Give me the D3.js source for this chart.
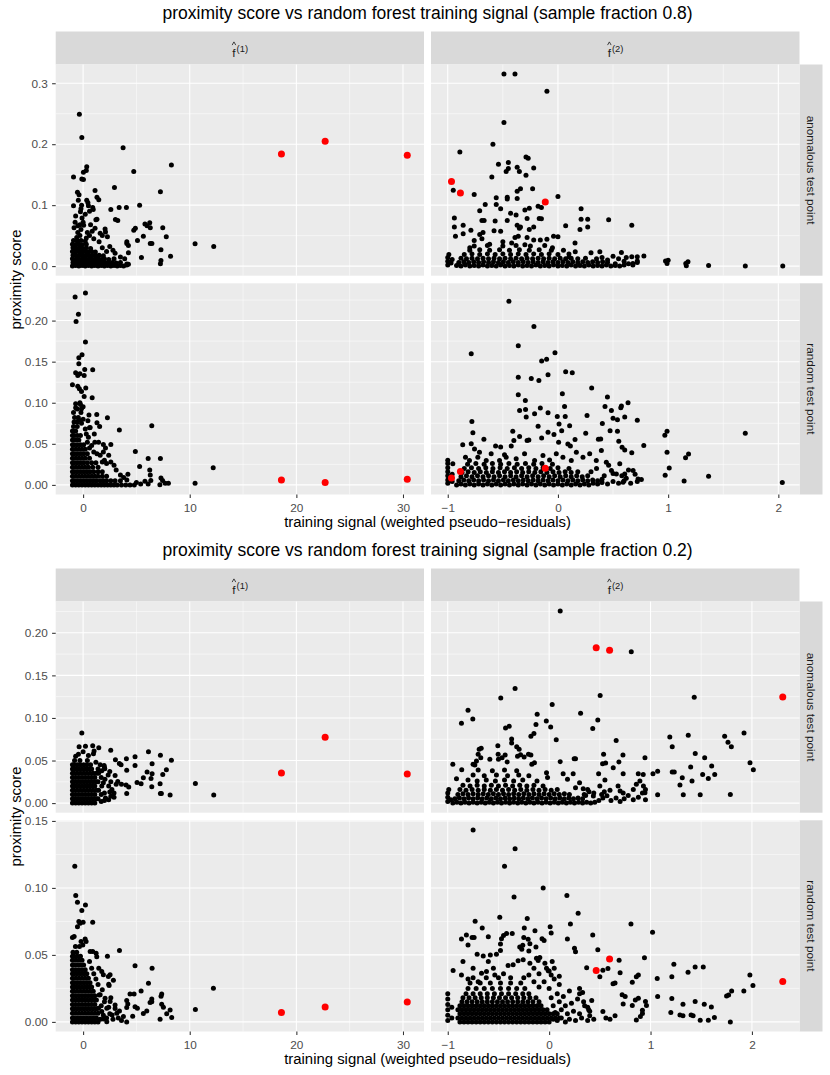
<!DOCTYPE html>
<html>
<head>
<meta charset="utf-8">
<script src="https://cdn.jsdelivr.net/npm/d3@7"></script>
<style>
  body { margin: 0; background: #fff; }
  text { font-family: "Liberation Sans", Arial, Helvetica, sans-serif; }
</style>
</head>
<body>
<svg id="chart" width="830" height="1075"></svg>
<script>
// ---- labels and ticks ----
const titles = [
  "proximity score vs random forest training signal (sample fraction 0.8)",
  "proximity score vs random forest training signal (sample fraction 0.2)",
];
const colLabels = ["1", "2"];
const rowLabels = ["anomalous test point", "random test point"];
const xLabel = "training signal (weighted pseudo\u2212residuals)";
const yLabel = "proximity score";

const xTicksF1 = [0, 10, 20, 30];
const xTicksF2 = [-1, 0, 1, 2];
const yTicks08Anom = [0, 0.1, 0.2, 0.3];
const yTicks08Rand = [0, 0.05, 0.1, 0.15, 0.2];
const yTicks02Anom = [0, 0.05, 0.1, 0.15, 0.2];
const yTicks02Rand = [0, 0.05, 0.1, 0.15];

// ---- highlighted (red) points ----
const red08F1Anom = [[18.6, 0.184], [22.7, 0.205], [30.4, 0.182]];
const red08F1Rand = [[18.6, 0.006], [22.7, 0.0028], [30.4, 0.0069]];
const red08F2Anom = [[-0.966, 0.139], [-0.885, 0.120], [-0.115, 0.105]];
const red08F2Rand = [[-0.966, 0.0085], [-0.885, 0.0162], [-0.115, 0.0203]];
const red02F1Anom = [[18.6, 0.0353], [22.7, 0.0773], [30.4, 0.0341]];
const red02F1Rand = [[18.6, 0.0070], [22.7, 0.0112], [30.4, 0.0149]];
const red02F2Anom = [[0.464, 0.1824], [0.596, 0.1796], [2.304, 0.1247]];
const red02F2Rand = [[0.464, 0.0383], [0.596, 0.047], [2.304, 0.0301]];

// ---- sample fraction 0.8, f1, anomalous ----
const pts08F1Anom = [
  [-1.0,0],[-0.7,0.001],[-0.4,0],[-0.1,0.001],[0.2,0],[0.5,0.001],[0.8,0],[1.1,0.001],[1.4,0],[1.7,0.001],[2.0,0],[2.3,0.001],[2.6,0],[2.9,0.001],[3.2,0],[3.5,0.001],[3.8,0],[4.1,0.002],
  [-0.95,0.006],[-0.65,0.005],[-0.35,0.006],[-0.05,0.005],[0.25,0.006],[0.55,0.005],[0.85,0.006],[1.15,0.005],[1.45,0.006],[1.75,0.005],[2.05,0.006],[2.4,0.005],[2.75,0.006],[3.1,0.005],[3.5,0.006],
  [-1.0,0.012],[-0.7,0.011],[-0.4,0.012],[-0.1,0.011],[0.2,0.012],[0.5,0.011],[0.8,0.012],[1.1,0.011],[1.4,0.012],[1.7,0.011],[2.0,0.012],[2.4,0.011],[2.9,0.012],
  [-0.95,0.018],[-0.65,0.017],[-0.35,0.018],[-0.05,0.017],[0.25,0.018],[0.55,0.017],[0.85,0.018],[1.15,0.017],[1.5,0.018],[1.9,0.017],
  [-1.0,0.024],[-0.7,0.023],[-0.4,0.024],[-0.1,0.023],[0.2,0.024],[0.5,0.023],[0.8,0.024],[1.15,0.023],
  [-0.95,0.030],[-0.65,0.029],[-0.35,0.030],[-0.05,0.029],[0.3,0.030],[0.7,0.029],
  [-1.0,0.036],[-0.7,0.035],[-0.4,0.036],[-0.1,0.035],[0.3,0.036],
  [-0.9,0.042],[-0.55,0.041],[-0.2,0.042],[0.2,0.041],
  [-0.35,0.249],[-0.12,0.211],[3.75,0.194],[8.28,0.166],[4.75,0.155],[0.34,0.163],[0.3,0.157],[0.03,0.154],[-0.9,0.146],[-0.12,0.143],[0.03,0.142],
  [2.94,0.129],[1.12,0.124],[-0.53,0.121],[-0.38,0.117],[7.25,0.122],[0.34,0.108],[1.47,0.109],[1.3,0.113],[-0.14,0.100],[-0.2,0.094],
  [-0.9,0.099],[0.45,0.104],[0.5,0.099],[0.9,0.096],[0.95,0.093],[-0.25,0.089],[2.6,0.093],[3.38,0.096],[4.06,0.096],[5.3,0.1],[3.03,0.0765],
  [-0.75,0.072],[-0.1,0.079],[0.0,0.072],[0.05,0.067],[-0.3,0.068],[1.2,0.076],[1.3,0.077],[3.25,0.075],[4.9,0.062],[4.75,0.059],
  [5.8,0.069],[6.0,0.066],[6.25,0.071],[6.3,0.063],[7.47,0.063],[7.8,0.048],[5.65,0.049],[5.1,0.042],[4.1,0.04],[4.1,0.037],[4.25,0.034],
  [6.3,0.037],[6.45,0.037],[7.3,0.027],[8.2,0.016],[5.47,0.014],[7.3,0.009],[7.25,0.004],[4.1,0.0035],[4.25,0.003],[10.5,0.0366],[12.25,0.032],
  [4.25,0.022],[1.12,0.062],[1.6,0.054],[1.8,0.05],[2.06,0.061],[2.1,0.056],[2.28,0.048],[0.85,0.057],[1.0,0.045],[0.6,0.05],[-0.5,0.055],
  [-0.3,0.05],[-0.6,0.047],[0.3,0.046],[1.5,0.04],[2.5,0.032],[3.0,0.021],[3.5,0.015],[2.8,0.026],[3.9,0.012],[1.8,0.03],[2.2,0.024],
  [-0.85,0.063],[-0.5,0.066],[-0.2,0.06],[0.4,0.055],[0.7,0.068],[-0.7,0.082],[0.2,0.085],[-0.45,0.108],[0.6,0.09]
];

// ---- sample fraction 0.8, f1, random ----
const pts08F1Rand = [
  [-1.0,0],[-0.7,0],[-0.4,0],[-0.1,0],[0.2,0],[0.5,0],[0.8,0],[1.1,0],[1.4,0],[1.7,0],[2.0,0],[2.3,0],[2.6,0],[2.9,0],[3.2,0],[3.6,0],[4.0,0],[4.4,0],[4.8,0],
  [-1.0,0.005],[-0.85,0.005],[-0.55,0.005],[-0.25,0.005],[0.05,0.005],[0.35,0.005],[0.65,0.005],[0.95,0.005],[1.25,0.005],[1.6,0.005],[1.9,0.005],[2.2,0.005],[2.6,0.005],[3.0,0.005],[3.5,0.005],
  [-1.0,0.0105],[-0.7,0.0105],[-0.4,0.0105],[-0.1,0.0105],[0.2,0.0105],[0.5,0.0105],[0.8,0.0105],[1.1,0.0105],[1.4,0.0105],[1.8,0.0105],[2.2,0.0105],
  [-1.0,0.016],[-0.85,0.016],[-0.55,0.016],[-0.25,0.016],[0.05,0.016],[0.35,0.016],[0.65,0.016],[1.0,0.016],[1.4,0.016],[1.8,0.016],
  [-1.0,0.0215],[-0.7,0.0215],[-0.4,0.0215],[-0.1,0.0215],[0.2,0.0215],[0.5,0.0215],[0.9,0.0215],[1.4,0.0215],
  [-1.0,0.027],[-0.85,0.027],[-0.55,0.027],[-0.25,0.027],[0.05,0.027],[0.4,0.027],[0.8,0.027],[1.2,0.027],
  [-1.0,0.0325],[-0.7,0.0325],[-0.4,0.0325],[-0.1,0.0325],[0.2,0.0325],[0.6,0.0325],
  [-1.0,0.038],[-0.85,0.038],[-0.55,0.038],[-0.25,0.038],[0.05,0.038],[0.4,0.038],
  [-1.0,0.0435],[-0.7,0.0435],[-0.4,0.0435],[-0.1,0.0435],[0.2,0.0435],
  [-1.0,0.049],[-0.85,0.049],[-0.55,0.049],[-0.25,0.049],[0.05,0.049],
  [-1.0,0.0545],[-0.7,0.0545],[-0.4,0.0545],
  [-1.0,0.06],[-0.85,0.06],[-0.55,0.06],[-0.25,0.06],
  [-1.0,0.0655],[-0.7,0.0655],[-0.9,0.071],[-0.55,0.071],[-0.85,0.0765],[-0.55,0.0765],[-0.8,0.082],[-0.45,0.082],[-0.9,0.088],[-0.7,0.094],
  [-0.75,0.2288],[0.22,0.2337],[-0.44,0.2077],[-0.66,0.1988],[0.22,0.1739],[-0.1,0.1585],[-0.4,0.1548],[-0.4,0.1475],[-0.7,0.1365],[-0.5,0.1333],
  [-0.3,0.1353],[0.15,0.1406],[0.1,0.1333],[0.9,0.1402],[-1.0,0.1219],[-0.5,0.12],[-0.35,0.1171],[-0.15,0.1138],[0.25,0.1179],[0.1,0.1077],
  [0.85,0.1061],[-0.7,0.0988],[-0.25,0.098],[-0.15,0.0926],[1.28,0.0857],[2.28,0.0817],[1.3,0.0756],[1.55,0.0711],[0.6,0.0695],[6.44,0.072],
  [3.4,0.0667],[1.1,0.052],[1.45,0.052],[1.9,0.0492],[2.6,0.0492],[4.9,0.0406],[6.1,0.0321],[7.25,0.0321],[5.3,0.0224],[6.25,0.0182],
  [6.3,0.0121],[6.35,0.0053],[4.2,0.013],[12.2,0.0208],[10.5,0.0019],[7.7,0.0019],[8.0,0.0019],[7.2,0.0003],[7.3,0.0085],[7.45,0.0053],
  [5.8,0.0045],[6.1,0.0012],[0.66,0.070],[-0.2,0.088],[-0.4,0.079],[0.0,0.08],[-0.3,0.1],[-0.55,0.0925],[0.3,0.062],[0.5,0.058],
  [0.8,0.048],[1.0,0.040],[1.3,0.038],[1.6,0.036],[1.9,0.04],[2.1,0.045],[2.4,0.036],[2.6,0.028],[2.9,0.024],[3.1,0.018],
  [3.5,0.012],[3.8,0.009],[4.1,0.006],[5.0,0.003],[5.4,0.001],[2.2,0.026],[1.8,0.028],[0.6,0.045],[0.4,0.052],[0.2,0.068],
  [0.0,0.095],[-0.15,0.075],[0.45,0.078],[0.55,0.085],[1.05,0.062],[2.0,0.03]
];

// ---- sample fraction 0.8, f2, anomalous ----
const pts08F2Anom = [
  [-0.92,0.001],[-0.88,0],[-0.84,0.002],[-0.8,0],[-0.76,0.001],[-0.72,0],[-0.68,0.002],[-0.64,0],[-0.6,0.001],[-0.56,0],[-0.52,0.002],[-0.48,0],[-0.44,0.001],
  [-0.4,0],[-0.36,0.002],[-0.32,0],[-0.28,0.001],[-0.24,0],[-0.2,0.002],[-0.16,0],[-0.12,0.001],[-0.08,0],[-0.04,0.002],[0,0],[0.04,0.001],[0.08,0],
  [0.12,0.002],[0.16,0],[0.2,0.001],[0.24,0],[0.28,0.002],[0.32,0],[0.36,0.001],[0.4,0],[0.44,0.002],[0.48,0],[0.52,0.001],[0.56,0],
  [-0.9,0.006],[-0.855,0.007],[-0.81,0.006],[-0.765,0.007],[-0.72,0.006],[-0.675,0.007],[-0.63,0.006],[-0.585,0.007],[-0.54,0.006],[-0.495,0.007],
  [-0.45,0.006],[-0.405,0.007],[-0.36,0.006],[-0.315,0.007],[-0.27,0.006],[-0.225,0.007],[-0.18,0.006],[-0.135,0.007],[-0.09,0.006],[-0.045,0.007],
  [0,0.006],[0.045,0.007],[0.09,0.006],[0.135,0.007],[0.18,0.006],[0.225,0.007],[0.27,0.006],[0.315,0.007],[0.36,0.006],[0.405,0.007],[0.45,0.006],
  [-0.88,0.013],[-0.83,0.012],[-0.78,0.013],[-0.73,0.012],[-0.68,0.013],[-0.63,0.012],[-0.58,0.013],[-0.53,0.012],[-0.48,0.013],[-0.43,0.012],
  [-0.38,0.013],[-0.33,0.012],[-0.28,0.013],[-0.23,0.012],[-0.18,0.013],[-0.13,0.012],[-0.08,0.013],[-0.03,0.012],[0.02,0.013],[0.07,0.012],[0.12,0.013],[0.18,0.012],[0.25,0.013],
  [-0.85,0.019],[-0.78,0.02],[-0.71,0.019],[-0.64,0.02],[-0.57,0.019],[-0.5,0.02],[-0.43,0.019],[-0.36,0.02],[-0.29,0.019],[-0.22,0.02],[-0.15,0.019],[-0.08,0.02],[0,0.019],[0.1,0.02],
  [-0.8,0.026],[-0.71,0.027],[-0.62,0.026],[-0.53,0.027],[-0.44,0.026],[-0.35,0.027],[-0.26,0.026],[-0.17,0.027],[-0.06,0.026],
  [-0.76,0.033],[-0.64,0.034],[-0.5,0.033],[-0.38,0.034],[-0.25,0.033],[-0.12,0.034],
  [-1.0,0.002],[-1.0,0.008],[-1.0,0.014],[-0.99,0.019],[-0.97,0.005],[-0.96,0.011],
  [0.6,0.002],[0.64,0.004],[0.68,0.002],[0.72,0.006],[0.6,0.008],[0.55,0.012],[0.5,0.016],[0.4,0.014],[0.62,0.014],[0.45,0.01],[0.52,0.004],
  [-0.49,0.315],[-0.39,0.315],[-0.10,0.287],[-0.49,0.2355],[-0.59,0.2],[-0.89,0.187],[-0.54,0.167],[-0.29,0.179],[-0.27,0.177],[-0.45,0.170],
  [-0.37,0.162],[-0.45,0.160],[-0.22,0.161],[-0.47,0.155],[-0.35,0.155],[-0.29,0.149],[-0.6,0.146],[-0.95,0.1245],[-0.76,0.1175],[-0.46,0.113],
  [-0.46,0.110],[-0.37,0.111],[-0.37,0.123],[-0.34,0.127],[-0.23,0.127],[0.0,0.114],[-0.56,0.112],[-0.66,0.101],[-0.71,0.091],[-0.56,0.101],
  [-0.52,0.094],[-0.43,0.0866],[-0.38,0.084],[-0.3,0.092],[-0.26,0.095],[-0.18,0.098],[-0.15,0.096],[0.21,0.094],[0.21,0.077],[0.27,0.077],
  [0.46,0.0759],[0.67,0.067],[0.07,0.066],[0.20,0.060],[0.27,0.064],[-0.94,0.079],[-0.94,0.064],[-0.93,0.049],[-0.86,0.067],[-0.86,0.053],
  [-0.79,0.059],[-0.69,0.075],[-0.67,0.075],[-0.57,0.074],[-0.46,0.075],[-0.37,0.067],[-0.35,0.062],[-0.34,0.064],[-0.28,0.078],[-0.17,0.078],
  [-0.15,0.0775],[-0.26,0.06],[-0.22,0.064],[-0.04,0.049],[0.0,0.048],[0.155,0.038],[-0.76,0.042],[-0.69,0.045],[-0.71,0.052],[-0.68,0.055],
  [-0.58,0.058],[-0.52,0.057],[-0.36,0.049],[-0.39,0.047],[-0.28,0.047],[-0.22,0.043],[-0.16,0.043],[-0.1,0.044],[0.38,0.0235],[0.576,0.0224],
  [0.30,0.022],[0.157,0.0235],[0.67,0.0153],[0.72,0.0153],[0.78,0.0164],[0.72,0.0082],[0.68,0.0044],[0.976,0.0082],[0.99,0.0044],[1.0,0.0098],
  [1.16,0.0044],[1.18,0.0071],[1.165,0.0005],[1.367,0.001],[1.70,0.0],[2.04,0.0],[-0.62,0.036],[-0.5,0.04],[-0.42,0.038],[-0.3,0.035],
  [-0.05,0.03],[0.05,0.026],[-0.8,0.03],[0.1,0.015],[0.35,0.012]
];

// ---- sample fraction 0.8, f2, random ----
const pts08F2Rand = [
  [-0.92,0],[-0.88,0.001],[-0.84,0],[-0.8,0.001],[-0.76,0],[-0.72,0.001],[-0.68,0],[-0.64,0.001],[-0.6,0],[-0.56,0.001],[-0.52,0],[-0.48,0.001],
  [-0.44,0],[-0.4,0.001],[-0.36,0],[-0.32,0.001],[-0.28,0],[-0.24,0.001],[-0.2,0],[-0.16,0.001],[-0.12,0],[-0.08,0.001],[-0.04,0],[0,0.001],
  [0.04,0],[0.08,0.001],[0.12,0],[0.16,0.001],[0.2,0],[0.24,0.001],[0.28,0],
  [-0.9,0.005],[-0.855,0.006],[-0.81,0.005],[-0.765,0.006],[-0.72,0.005],[-0.675,0.006],[-0.63,0.005],[-0.585,0.006],[-0.54,0.005],[-0.495,0.006],
  [-0.45,0.005],[-0.405,0.006],[-0.36,0.005],[-0.315,0.006],[-0.27,0.005],[-0.225,0.006],[-0.18,0.005],[-0.135,0.006],[-0.09,0.005],[-0.045,0.006],
  [0,0.005],[0.045,0.006],[0.09,0.005],[0.135,0.006],[0.18,0.005],[0.225,0.006],[0.27,0.005],[0.315,0.006],[0.36,0.005],
  [-0.88,0.01],[-0.83,0.011],[-0.78,0.01],[-0.73,0.011],[-0.68,0.01],[-0.63,0.011],[-0.58,0.01],[-0.53,0.011],[-0.48,0.01],[-0.43,0.011],[-0.38,0.01],[-0.33,0.011],
  [-0.28,0.01],[-0.23,0.011],[-0.18,0.01],[-0.13,0.011],[-0.08,0.01],[-0.03,0.011],[0.02,0.01],[0.07,0.011],[0.12,0.01],[0.17,0.011],[0.22,0.01],[0.27,0.011],
  [-0.87,0.015],[-0.815,0.016],[-0.76,0.015],[-0.705,0.016],[-0.65,0.015],[-0.595,0.016],[-0.54,0.015],[-0.485,0.016],[-0.43,0.015],[-0.375,0.016],
  [-0.32,0.015],[-0.265,0.016],[-0.21,0.015],[-0.155,0.016],[-0.1,0.015],[-0.045,0.016],[0.01,0.015],[0.065,0.016],[0.12,0.015],[0.18,0.016],
  [-0.85,0.02],[-0.785,0.021],[-0.72,0.02],[-0.655,0.021],[-0.59,0.02],[-0.525,0.021],[-0.46,0.02],[-0.395,0.021],[-0.33,0.02],[-0.265,0.021],
  [-0.2,0.02],[-0.135,0.021],[-0.07,0.02],[0.0,0.021],[0.1,0.02],
  [-0.82,0.025],[-0.745,0.026],[-0.67,0.025],[-0.595,0.026],[-0.52,0.025],[-0.445,0.026],[-0.37,0.025],[-0.295,0.026],[-0.22,0.025],[-0.145,0.026],[-0.05,0.025],
  [-1.0,0.002],[-1.0,0.006],[-1.0,0.011],[-1.0,0.016],[-1.0,0.021],[-1.0,0.026],[-1.0,0.03],[-0.96,0.004],[-0.96,0.013],
  [0.32,0.002],[0.36,0.001],[0.4,0.003],[0.45,0.001],[0.5,0.004],[0.55,0.002],[0.6,0.005],[0.66,0.002],[0.72,0.004],[0.42,0.011],
  [0.5,0.014],[0.58,0.011],[0.64,0.018],[0.7,0.013],[0.35,0.02],[0.46,0.024],[0.3,0.016],[0.4,0.007],[0.62,0.008],
  [-0.864,0.0488],[-0.787,0.05],[-0.757,0.0438],[-0.712,0.0398],[-0.672,0.0556],[-0.566,0.0472],[-0.52,0.046],[-0.485,0.0367],[-0.424,0.0472],
  [-0.4,0.054],[-0.348,0.0589],[-0.954,0.0256],
  [-0.839,0.0337],[-0.803,0.0296],[-0.727,0.0337],[-0.651,0.0296],[-0.606,0.0378],[-0.53,0.0296],[-0.47,0.0337],[-0.379,0.0317],[-0.303,0.0378],
  [-0.212,0.0296],[-0.136,0.0358],[-0.076,0.0304],[-0.015,0.0378],[0.045,0.0337],[0.121,0.0296],[0.167,0.0398],[0.227,0.0337],[0.288,0.0378],
  [0.348,0.0296],[0.394,0.0419],[0.439,0.0276],[0.485,0.0174],[0.53,0.0134],[0.561,0.0256],[0.606,0.0134],[0.682,0.0174],[0.727,0.0073],
  [0.757,0.0065],[0.591,0.0033],
  [-0.445,0.2235],[-0.218,0.1927],[-0.36,0.1695],[-0.787,0.1597],[-0.027,0.161],[-0.148,0.1507],[-0.103,0.1528],[-0.36,0.1309],[-0.242,0.1296],
  [-0.173,0.1272],[-0.09,0.134],[0.07,0.1378],[0.13,0.1366],[0.306,0.1178],[-0.36,0.1097],[-0.296,0.1028],[0.04,0.111],[0.449,0.107],[0.636,0.1],
  [-0.348,0.0906],[-0.294,0.0918],[-0.288,0.0825],[-0.212,0.0865],[-0.16,0.0935],[-0.09,0.0877],[0.06,0.0955],[-0.006,0.0833],[0.066,0.0833],
  [0.427,0.0955],[0.485,0.0906],[0.57,0.0939],[0.576,0.096],[0.264,0.0845],[0.5,0.0812],[0.54,0.0792],[0.606,0.0825],[0.72,0.0788],
  [-0.781,0.0772],[-0.772,0.0634],[0.403,0.0748],[-0.18,0.0715],[0.01,0.074],[0.106,0.072],[0.034,0.0658],[0.252,0.063],[-0.09,0.0642],
  [-0.036,0.0614],[0.473,0.0658],[0.54,0.0654],[-0.41,0.0654],[-0.28,0.054],[-0.264,0.0548],[-0.148,0.0572],[0.006,0.052],[0.09,0.0499],
  [0.113,0.0475],[0.155,0.0552],[0.367,0.0556],[0.388,0.056],[0.552,0.0532],[0.582,0.0459],[0.606,0.0426],[0.67,0.039],[0.779,0.048],
  [0.97,0.0605],[0.99,0.0654],[0.99,0.0398],[1.158,0.0329],[1.185,0.0377],[1.70,0.063],[1.01,0.0207],[0.973,0.0118],[1.145,0.0048],
  [1.367,0.0105],[2.036,0.0028]
];

// ---- sample fraction 0.2, f1, anomalous ----
const pts02F1Anom = [
  [-1.0,0],[-0.7,0],[-0.4,0],[-0.1,0],[0.2,0],[0.5,0],[0.8,0],[1.1,0],
  [-1.0,0.005],[-0.85,0.005],[-0.55,0.005],[-0.25,0.005],[0.05,0.005],[0.35,0.005],[0.65,0.005],[0.95,0.005],[1.25,0.005],
  [-1.0,0.01],[-0.7,0.01],[-0.4,0.01],[-0.1,0.01],[0.2,0.01],[0.5,0.01],[0.8,0.01],[1.1,0.01],
  [-1.0,0.015],[-0.85,0.015],[-0.55,0.015],[-0.25,0.015],[0.05,0.015],[0.35,0.015],[0.65,0.015],[0.95,0.015],[1.25,0.015],
  [-1.0,0.02],[-0.7,0.02],[-0.4,0.02],[-0.1,0.02],[0.2,0.02],[0.5,0.02],[0.8,0.02],[1.1,0.02],
  [-1.0,0.025],[-0.85,0.025],[-0.55,0.025],[-0.25,0.025],[0.05,0.025],[0.35,0.025],[0.65,0.025],[0.95,0.025],[1.25,0.025],
  [-1.0,0.03],[-0.7,0.03],[-0.4,0.03],[-0.1,0.03],[0.2,0.03],[0.5,0.03],[0.8,0.03],[1.1,0.03],
  [-1.0,0.035],[-0.85,0.035],[-0.55,0.035],[-0.25,0.035],[0.05,0.035],[0.35,0.035],[0.65,0.035],[0.95,0.035],[1.25,0.035],
  [-1.0,0.04],[-0.7,0.04],[-0.4,0.04],[-0.1,0.04],[0.2,0.04],[0.5,0.04],[0.8,0.04],
  [-1.0,0.045],[-0.85,0.045],[-0.55,0.045],[-0.25,0.045],[0.05,0.045],[0.35,0.045],[0.7,0.045],
  [-0.8,0.05],[-0.3,0.05],[0.4,0.05],[1.2,0.048],
  [1.4,0.005],[1.45,0.015],[1.4,0.025],[1.45,0.035],[1.4,0.04],[1.7,0.01],[1.75,0.02],[1.7,0.03],[1.75,0.038],[2.0,0.042],
  [2.05,0.028],[2.35,0.033],[2.6,0.025],[1.7,0.002],[2.0,0.003],[2.4,0.004],[1.9,0.024],[2.4,0.02],[2.0,0.012],[2.5,0.013],
  [2.7,0.016],[2.1,0.006],[2.6,0.008],[2.9,0.012],
  [-0.12,0.0824],[-0.375,0.0663],[0.22,0.0667],[0.9,0.0675],[1.47,0.065],[-0.44,0.0573],[0.0,0.0604],[1.03,0.0612],[0.97,0.0581],[2.59,0.062],
  [3.03,0.051],[4.06,0.0522],[4.87,0.0545],[4.87,0.0443],[4.09,0.0385],[6.13,0.0604],[7.25,0.0561],[8.28,0.0502],[6.47,0.0463],[6.0,0.0365],
  [6.47,0.0345],[6.37,0.029],[7.81,0.0392],[7.47,0.0337],[7.22,0.0227],[6.44,0.0192],[5.65,0.0298],[5.44,0.0227],[5.06,0.0243],[7.34,0.0114],
  [7.25,0.0114],[8.16,0.0094],[10.53,0.0231],[12.25,0.0094],[4.03,0.0212],[4.28,0.0188],[4.09,0.0114],[2.9,0.007],[3.1,0.022],[3.6,0.022],
  [3.25,0.0255],[1.6,0.0451],[1.97,0.0443],[2.03,0.0404],[2.5,0.0372],[3.0,0.0325],[3.4,0.0466],[3.56,0.045],[-0.7,0.055],[0.5,0.056]
];

// ---- sample fraction 0.2, f1, random ----
const pts02F1Rand = [
  [-1.0,0],[-0.7,0],[-0.4,0],[-0.1,0],[0.2,0],[0.5,0],[0.8,0],[1.1,0],[1.4,0],
  [-1.0,0.003],[-0.85,0.003],[-0.55,0.003],[-0.25,0.003],[0.05,0.003],[0.35,0.003],[0.65,0.003],[0.95,0.003],[1.25,0.003],
  [-1.0,0.0065],[-0.7,0.0065],[-0.4,0.0065],[-0.1,0.0065],[0.2,0.0065],[0.5,0.0065],[0.8,0.0065],[1.1,0.0065],[1.4,0.0065],
  [-1.0,0.0098],[-0.85,0.0098],[-0.55,0.0098],[-0.25,0.0098],[0.05,0.0098],[0.35,0.0098],[0.65,0.0098],[0.95,0.0098],[1.25,0.0098],
  [-1.0,0.013],[-0.7,0.013],[-0.4,0.013],[-0.1,0.013],[0.2,0.013],[0.5,0.013],[0.8,0.013],[1.1,0.013],
  [-1.0,0.0163],[-0.85,0.0163],[-0.55,0.0163],[-0.25,0.0163],[0.05,0.0163],[0.35,0.0163],[0.65,0.0163],[0.95,0.0163],[1.25,0.0163],
  [-1.0,0.0196],[-0.7,0.0196],[-0.4,0.0196],[-0.1,0.0196],[0.2,0.0196],[0.5,0.0196],[0.8,0.0196],[1.1,0.0196],
  [-1.0,0.0229],[-0.85,0.0229],[-0.55,0.0229],[-0.25,0.0229],[0.05,0.0229],[0.35,0.0229],[0.65,0.0229],[0.95,0.0229],
  [-1.0,0.026],[-0.7,0.026],[-0.4,0.026],[-0.1,0.026],[0.2,0.026],[0.5,0.026],[0.8,0.026],
  [-1.0,0.0293],[-0.85,0.0293],[-0.55,0.0293],[-0.25,0.0293],[0.05,0.0293],[0.35,0.0293],[0.65,0.0293],
  [-1.0,0.0326],[-0.7,0.0326],[-0.4,0.0326],[-0.1,0.0326],[0.2,0.0326],[0.5,0.0326],
  [-1.0,0.036],[-0.85,0.036],[-0.55,0.036],[-0.25,0.036],[0.05,0.036],[0.35,0.036],
  [-1.0,0.039],[-0.7,0.039],[-0.4,0.039],[-0.1,0.039],[0.2,0.039],
  [-1.0,0.0425],[-0.85,0.0425],[-0.55,0.0425],[-0.25,0.0425],[0.05,0.0425],
  [-1.0,0.046],[-0.7,0.046],[-0.4,0.046],[-0.1,0.046],
  [-1.0,0.049],[-0.85,0.049],[-0.55,0.049],[-0.25,0.049],[-0.95,0.052],[-0.6,0.052],
  [1.6,0.002],[1.9,0.005],[2.2,0.003],[2.5,0.006],[2.8,0.002],[1.7,0.012],[2.0,0.015],[2.4,0.011],[1.5,0.02],[1.8,0.024],
  [2.6,0.018],[3.0,0.01],[1.4,0.028],[1.2,0.032],[1.0,0.036],[0.8,0.04],[0.6,0.045],[3.3,0.003],[3.6,0.001],
  [1.6,0.0202],[2.06,0.0177],[2.53,0.0152],[3.0,0.0127],[1.75,0.0077],[2.72,0.0052],[1.44,0.0102],[2.22,0.0102],
  [-0.78,0.1162],[-0.69,0.0943],[-0.53,0.0893],[0.22,0.0873],[-0.12,0.0831],[0.9,0.0744],[-0.4,0.0749],[-0.28,0.0736],[-0.53,0.0711],
  [0.0,0.0744],[-1.0,0.063],[-0.84,0.0637],[0.19,0.0619],[0.28,0.06],[-0.19,0.06],[-0.72,0.0562],[-0.34,0.0562],[-0.03,0.0574],
  [0.66,0.0525],[1.22,0.0512],[1.28,0.0487],[0.9,0.0525],[2.28,0.049],[3.41,0.0532],[4.87,0.042],[6.47,0.04],[1.47,0.04],
  [1.75,0.0376],[1.9,0.0351],[2.37,0.0339],[2.53,0.0351],[2.84,0.0311],[2.4,0.0281],[2.44,0.0271],[6.13,0.0288],[5.44,0.0231],
  [12.22,0.0251],[4.4,0.0209],[4.78,0.0209],[7.37,0.0209],[7.31,0.0191],[6.44,0.0171],[6.44,0.0151],[6.28,0.0144],[4.09,0.0159],
  [4.19,0.0134],[4.09,0.0107],[4.87,0.0114],[5.09,0.0102],[7.37,0.0131],[7.53,0.0109],[8.16,0.0089],[10.53,0.0092],[5.97,0.0082],
  [5.65,0.0062],[7.84,0.006],[8.31,0.0032],[7.22,0.002],[4.09,0.0],[4.65,0.0042],[3.78,0.004],[3.41,0.0082],[3.16,0.0065],
  [1.9,0.0022],[2.22,0.0002]
];

// ---- sample fraction 0.2, f2, anomalous ----
const pts02F2Anom = [
  [-0.95,0],[-0.91,0.001],[-0.87,0],[-0.83,0.001],[-0.79,0],[-0.75,0.001],[-0.71,0],[-0.67,0.001],[-0.63,0],[-0.59,0.001],[-0.55,0],[-0.51,0.001],
  [-0.47,0],[-0.43,0.001],[-0.39,0],[-0.35,0.001],[-0.31,0],[-0.27,0.001],[-0.23,0],[-0.19,0.001],[-0.15,0],[-0.11,0.001],[-0.07,0],[-0.03,0.001],
  [0.01,0],[0.05,0.001],[0.09,0],[0.13,0.001],[0.17,0],[0.21,0.001],[0.25,0],[0.29,0.001],[0.33,0],[0.37,0.001],[0.41,0],[0.45,0.001],
  [-0.93,0.005],[-0.885,0.006],[-0.84,0.005],[-0.795,0.006],[-0.75,0.005],[-0.705,0.006],[-0.66,0.005],[-0.615,0.006],[-0.57,0.005],[-0.525,0.006],
  [-0.48,0.005],[-0.435,0.006],[-0.39,0.005],[-0.345,0.006],[-0.3,0.005],[-0.255,0.006],[-0.21,0.005],[-0.165,0.006],[-0.12,0.005],[-0.075,0.006],
  [-0.03,0.005],[0.015,0.006],[0.06,0.005],[0.105,0.006],[0.15,0.005],[0.195,0.006],[0.24,0.005],[0.285,0.006],[0.33,0.005],
  [-0.9,0.01],[-0.85,0.011],[-0.8,0.01],[-0.75,0.011],[-0.7,0.01],[-0.65,0.011],[-0.6,0.01],[-0.55,0.011],[-0.5,0.01],[-0.45,0.011],[-0.4,0.01],[-0.35,0.011],
  [-0.3,0.01],[-0.25,0.011],[-0.2,0.01],[-0.15,0.011],[-0.1,0.01],[-0.05,0.011],[0.0,0.01],[0.05,0.011],[0.1,0.01],[0.15,0.011],[0.2,0.01],
  [-0.88,0.016],[-0.82,0.015],[-0.76,0.016],[-0.7,0.015],[-0.64,0.016],[-0.58,0.015],[-0.52,0.016],[-0.46,0.015],[-0.4,0.016],[-0.34,0.015],
  [-0.28,0.016],[-0.22,0.015],[-0.16,0.016],[-0.1,0.015],[-0.04,0.016],[0.02,0.015],[0.08,0.016],
  [-0.85,0.021],[-0.78,0.02],[-0.71,0.021],[-0.64,0.02],[-0.57,0.021],[-0.5,0.02],[-0.43,0.021],[-0.36,0.02],[-0.29,0.021],[-0.22,0.02],[-0.15,0.021],[-0.06,0.02],
  [-0.8,0.027],[-0.71,0.026],[-0.62,0.027],[-0.53,0.026],[-0.44,0.027],[-0.35,0.026],[-0.26,0.027],[-0.12,0.026],
  [-0.75,0.033],[-0.64,0.032],[-0.52,0.033],[-0.41,0.032],[-0.3,0.033],[-0.2,0.032],
  [-0.7,0.039],[-0.56,0.038],[-0.44,0.039],[-0.32,0.038],
  [-1.0,0.002],[-1.0,0.007],[-1.0,0.012],[-0.99,0.016],[-0.97,0.004],
  [0.49,0.003],[0.53,0.006],[0.57,0.0085],[0.61,0.003],[0.66,0.006],[0.7,0.002],[0.74,0.005],[0.78,0.009],[0.83,0.004],[0.88,0.007],
  [0.92,0.012],[0.95,0.004],[0.44,0.012],[0.6,0.015],[0.68,0.02],[0.73,0.012],[0.93,0.02],[0.5,0.02],[0.26,0.018],[0.3,0.024],
  [0.70,0.0141],[0.83,0.016],[0.86,0.0222],[0.895,0.0259],[0.95,0.016],[0.945,0.0122],
  [0.544,0.0133],[0.518,0.0102],[0.436,0.0082],[0.393,0.0133],[0.36,0.009],[0.336,0.0169],[0.38,0.0161],[0.346,0.0102],
  [0.109,0.2255],[0.81,0.1777],[-0.477,0.1235],[-0.336,0.1346],[0.503,0.1263],[1.431,0.1243],[-0.8,0.1091],[0.03,0.1157],[0.31,0.1055],
  [-0.865,0.0937],[-0.753,0.0988],[-0.118,0.1043],[-0.028,0.0965],[0.015,0.0894],[-0.13,0.0922],[0.48,0.0977],[0.43,0.0876],[-0.43,0.0883],
  [-0.394,0.0902],[-0.18,0.0784],[-0.15,0.0816],[0.07,0.0745],[-0.37,0.0753],[-0.37,0.0706],[-0.506,0.0675],[-0.32,0.0663],[-0.296,0.0632],
  [-0.67,0.0643],[-0.69,0.0632],[0.661,0.0734],[1.19,0.0777],[1.214,0.0663],[1.372,0.0796],[1.731,0.0784],[1.764,0.0714],[1.797,0.0663],
  [1.922,0.0824],[1.441,0.0584],[1.534,0.0534],[1.603,0.0436],[1.396,0.0424],[1.981,0.0475],[2.014,0.0392],[0.945,0.0534],[0.537,0.0573],
  [0.557,0.0471],[0.527,0.0463],[0.728,0.0565],[0.688,0.0483],[0.632,0.0416],[0.247,0.0522],[0.26,0.0522],[0.109,0.0487],
  [-0.95,0.0455],[-0.914,0.0287],[-0.862,0.0392],[-0.75,0.0455],[-0.717,0.0494],[-0.733,0.0447],[-0.7,0.0573],[-0.674,0.0534],[-0.585,0.0514],
  [-0.503,0.0573],[-0.5,0.0514],[-0.464,0.0534],[-0.434,0.0565],[-0.414,0.0483],[-0.312,0.055],[-0.282,0.0569],[-0.247,0.0541],[-0.204,0.0573],
  [-0.18,0.0565],[-0.171,0.0455],[-0.145,0.0475],[-0.026,0.0357],[-0.016,0.0302],[0.138,0.0345],[0.181,0.0279],[0.237,0.0345],[0.73,0.0345],
  [0.879,0.0345],[0.928,0.0337],[1.024,0.0345],[1.07,0.0373],[1.214,0.0365],[1.234,0.0365],[1.313,0.0298],[1.29,0.0212],[1.409,0.0259],
  [1.514,0.0337],[1.57,0.029],[1.633,0.0337],[1.07,0.0098],[1.323,0.0098],[1.49,0.0098],[1.787,0.0102],[0.488,0.0345],[0.55,0.0271]
];

// ---- sample fraction 0.2, f2, random ----
const pts02F2Rand = [
  [-0.88,0],[-0.84,0],[-0.8,0],[-0.76,0],[-0.72,0],[-0.68,0],[-0.64,0],[-0.6,0],[-0.56,0],[-0.52,0],[-0.48,0],[-0.44,0],
  [-0.4,0],[-0.36,0],[-0.32,0],[-0.28,0],[-0.24,0],[-0.2,0],[-0.16,0],[-0.12,0],[-0.08,0],[-0.04,0],[0.0,0],
  [-0.9,0.003],[-0.86,0.003],[-0.82,0.003],[-0.78,0.003],[-0.74,0.003],[-0.7,0.003],[-0.66,0.003],[-0.62,0.003],[-0.58,0.003],[-0.54,0.003],
  [-0.5,0.003],[-0.46,0.003],[-0.42,0.003],[-0.38,0.003],[-0.34,0.003],[-0.3,0.003],[-0.26,0.003],[-0.22,0.003],[-0.18,0.003],[-0.14,0.003],
  [-0.1,0.003],[-0.06,0.003],[-0.02,0.003],[0.02,0.003],[0.06,0.003],[0.1,0.003],
  [-0.88,0.006],[-0.84,0.006],[-0.8,0.006],[-0.76,0.006],[-0.72,0.006],[-0.68,0.006],[-0.64,0.006],[-0.6,0.006],[-0.56,0.006],[-0.52,0.006],
  [-0.48,0.006],[-0.44,0.006],[-0.4,0.006],[-0.36,0.006],[-0.32,0.006],[-0.28,0.006],[-0.24,0.006],[-0.2,0.006],[-0.16,0.006],[-0.12,0.006],
  [-0.08,0.006],[-0.04,0.006],[0.0,0.006],[0.04,0.006],[0.08,0.006],
  [-0.9,0.009],[-0.86,0.009],[-0.82,0.009],[-0.78,0.009],[-0.74,0.009],[-0.7,0.009],[-0.66,0.009],[-0.62,0.009],[-0.58,0.009],[-0.54,0.009],
  [-0.5,0.009],[-0.46,0.009],[-0.42,0.009],[-0.38,0.009],[-0.34,0.009],[-0.3,0.009],[-0.26,0.009],[-0.22,0.009],[-0.18,0.009],[-0.14,0.009],
  [-0.1,0.009],[-0.06,0.009],[-0.02,0.009],
  [-0.88,0.012],[-0.84,0.012],[-0.8,0.012],[-0.76,0.012],[-0.72,0.012],[-0.68,0.012],[-0.64,0.012],[-0.6,0.012],[-0.56,0.012],[-0.52,0.012],
  [-0.48,0.012],[-0.44,0.012],[-0.4,0.012],[-0.36,0.012],[-0.32,0.012],[-0.28,0.012],[-0.24,0.012],[-0.2,0.012],[-0.16,0.012],[-0.12,0.012],[-0.08,0.012],
  [-0.86,0.015],[-0.81,0.015],[-0.76,0.015],[-0.71,0.015],[-0.66,0.015],[-0.61,0.015],[-0.56,0.015],[-0.51,0.015],[-0.46,0.015],[-0.41,0.015],
  [-0.36,0.015],[-0.31,0.015],[-0.26,0.015],[-0.21,0.015],[-0.16,0.015],[-0.1,0.015],
  [-0.85,0.018],[-0.79,0.018],[-0.73,0.018],[-0.67,0.018],[-0.61,0.018],[-0.55,0.018],[-0.49,0.018],[-0.43,0.018],[-0.37,0.018],[-0.31,0.018],
  [-0.25,0.018],[-0.19,0.018],[-0.13,0.018],
  [-0.82,0.021],[-0.75,0.021],[-0.68,0.021],[-0.61,0.021],[-0.54,0.021],[-0.47,0.021],[-0.4,0.021],[-0.33,0.021],[-0.26,0.021],[-0.2,0.021],
  [-0.8,0.025],[-0.72,0.025],[-0.64,0.025],[-0.56,0.025],[-0.48,0.025],[-0.4,0.025],[-0.32,0.025],[-0.24,0.025],
  [-0.78,0.029],[-0.68,0.029],[-0.58,0.029],[-0.48,0.029],[-0.38,0.029],[-0.28,0.029],
  [-0.75,0.033],[-0.62,0.033],[-0.5,0.033],[-0.38,0.033],[-0.25,0.033],
  [-1.0,0.001],[-1.0,0.005],[-1.0,0.009],[-1.0,0.013],[-1.0,0.017],[-1.0,0.021],[-0.96,0.003],[-0.96,0.011],
  [0.04,0.002],[0.08,0.001],[0.12,0.003],[0.16,0.0],[0.2,0.002],[0.26,0.001],[0.32,0.003],[0.38,0.001],[0.44,0.002],[0.06,0.007],
  [0.12,0.009],[0.18,0.006],[0.24,0.008],[0.3,0.006],[0.4,0.008],[0.04,0.012],[0.1,0.015],[0.16,0.012],[0.22,0.014],[0.28,0.017],
  [0.35,0.012],[0.42,0.016],[0.02,0.018],[0.08,0.021],[0.14,0.019],[0.2,0.023],[0.3,0.021],[0.0,0.025],[0.1,0.028],[0.05,0.032],
  [-0.05,0.03],[-0.1,0.036],[0.0,0.038],[-0.15,0.04],
  [-0.865,0.035],[-0.947,0.0384],[-0.75,0.04],[-0.667,0.0363],[-0.618,0.0376],[-0.536,0.035],[-0.405,0.0421],[-0.355,0.0426],[-0.306,0.0456],
  [-0.256,0.0463],[-0.19,0.0438],[-0.125,0.0475],[-0.108,0.0458],[-0.092,0.048],[-0.042,0.0438],[-0.026,0.04],[-0.009,0.0381],
  [-0.8,0.032],[-0.7,0.03],[-0.55,0.04],[-0.45,0.036],[-0.2,0.035],[-0.15,0.03],[-0.1,0.026],[-0.6,0.045],[-0.85,0.045],
  [-0.75,0.1433],[-0.336,0.1293],[-0.44,0.1162],[-0.059,0.1],[0.175,0.0943],[-0.346,0.0933],[0.286,0.0811],[-0.487,0.0781],[-0.216,0.0771],
  [-0.73,0.0751],[0.807,0.0731],[0.01,0.0711],[0.21,0.0731],[-0.66,0.0701],[-0.76,0.063],[-0.245,0.0701],[-0.14,0.0681],[0.02,0.0664],
  [-0.6,0.0636],[-0.816,0.0649],[-0.865,0.0619],[-0.74,0.0629],[-0.42,0.066],[-0.45,0.0645],[-0.47,0.062],[-0.364,0.066],[-0.25,0.0629],
  [-0.207,0.0617],[-0.07,0.062],[-0.05,0.0607],[0.18,0.0619],[0.43,0.0649],[1.02,0.0669],[-0.8,0.0574],[-0.71,0.0505],[-0.65,0.0492],
  [-0.58,0.0499],[-0.52,0.0505],[-0.48,0.0532],[-0.48,0.0582],[-0.29,0.0559],[-0.26,0.0572],[-0.19,0.0584],[-0.13,0.0559],[-0.27,0.0542],
  [-0.2,0.053],[0.25,0.0549],[0.26,0.0524],[0.48,0.0539],[0.69,0.046],[0.94,0.0479],[1.23,0.043],[1.52,0.041],[1.44,0.041],[1.37,0.037],
  [1.21,0.0337],[1.066,0.0323],[1.98,0.035],[2.01,0.0271],[1.92,0.023],[1.8,0.023],[1.75,0.0194],[1.77,0.0201],[1.07,0.019],[1.21,0.0174],
  [1.44,0.0152],[1.32,0.0132],[1.53,0.0132],[1.6,0.0112],[1.2,0.007],[1.29,0.0052],[1.32,0.0045],[1.4,0.0052],[1.42,0.0045],[1.63,0.0032],
  [1.49,0.0012],[1.57,0.0012],[1.787,0.0],[0.82,0.0122],[0.85,0.0164],[0.88,0.0177],[0.95,0.0152],[0.96,0.0122],[0.72,0.0202],[0.75,0.019],
  [0.73,0.0134],[0.7,0.0366],[0.65,0.0291],[0.63,0.0284],[0.82,0.0296],[0.88,0.035],[0.86,0.0337],[0.37,0.0405],[0.5,0.0337],[0.53,0.0386],
  [0.58,0.0398],[0.86,0.0015],[0.9,0.004],[0.92,0.0062],[0.92,0.0087],[0.6,0.002],[0.65,0.0045],[0.56,0.003],[0.53,0.0077],[0.39,0.009],
  [0.4,0.0045],[0.38,0.011],[0.3,0.025],[0.33,0.022],[0.34,0.015],[0.02,0.035],[0.05,0.04],[0.1,0.034],[0.03,0.045]
];

// ---- layout ----
const W = 830, H = 1075;
const FONT = '"Liberation Sans", Arial, Helvetica, sans-serif';
const layout = {
  colX: [[55.7, 424.0], [431.0, 799.5]],
  stripRight: [799.5, 822.5],
  stripH: 33,
  rowH: 211.2,
  gap: 7.6,
};

const figures = [
  {
    title: titles[0], stripTop: 31.5,
    cells: [[pts08F1Anom, pts08F2Anom], [pts08F1Rand, pts08F2Rand]],
    reds: [[red08F1Anom, red08F2Anom], [red08F1Rand, red08F2Rand]],
    yTicks: [yTicks08Anom, yTicks08Rand], yFmt: [".1f", ".2f"],
    xTicks: [xTicksF1, xTicksF2],
  },
  {
    title: titles[1], stripTop: 568.5,
    cells: [[pts02F1Anom, pts02F2Anom], [pts02F1Rand, pts02F2Rand]],
    reds: [[red02F1Anom, red02F2Anom], [red02F1Rand, red02F2Rand]],
    yTicks: [yTicks02Anom, yTicks02Rand], yFmt: [".2f", ".2f"],
    xTicks: [xTicksF1, xTicksF2],
  },
];

const svg = d3.select("#chart");
svg.append("rect").attr("width", W).attr("height", H).attr("fill", "#fff");

// ggplot-like 5% expansion of the data range
function expanded(values) {
  const [lo, hi] = d3.extent(values);
  const pad = (hi - lo) * 0.05;
  return [lo - pad, hi + pad];
}

// minor breaks sit halfway between major ones
function minorBreaks(major, domain) {
  const step = major[1] - major[0];
  const out = [];
  for (let v = major[0] - step / 2; v <= domain[1]; v += step) {
    if (v >= domain[0]) out.push(v);
  }
  return out;
}

function drawFigure(fig) {
  const panelTop = fig.stripTop + layout.stripH;
  const rowY = [
    [panelTop, panelTop + layout.rowH],
    [panelTop + layout.rowH + layout.gap, panelTop + 2 * layout.rowH + layout.gap],
  ];

  const xScales = [0, 1].map((c) => {
    const vals = [];
    [0, 1].forEach((r) => {
      fig.cells[r][c].forEach((d) => vals.push(d[0]));
      fig.reds[r][c].forEach((d) => vals.push(d[0]));
    });
    return d3.scaleLinear().domain(expanded(vals)).range(layout.colX[c]);
  });
  const yScales = [0, 1].map((r) => {
    const vals = [];
    [0, 1].forEach((c) => {
      fig.cells[r][c].forEach((d) => vals.push(d[1]));
      fig.reds[r][c].forEach((d) => vals.push(d[1]));
    });
    return d3.scaleLinear().domain(expanded(vals)).range([rowY[r][1], rowY[r][0]]);
  });

  const g = svg.append("g");

  // title
  g.append("text")
    .attr("x", (layout.colX[0][0] + layout.colX[1][1]) / 2)
    .attr("y", fig.stripTop - 12.5)
    .attr("text-anchor", "middle")
    .attr("font-size", "17.5px")
    .attr("fill", "#000")
    .text(fig.title);

  // top strips: hat(f)^(k)
  [0, 1].forEach((c) => {
    const [x0, x1] = layout.colX[c];
    const cx = (x0 + x1) / 2;
    g.append("rect")
      .attr("x", x0).attr("y", fig.stripTop)
      .attr("width", x1 - x0).attr("height", layout.stripH)
      .attr("fill", "#D9D9D9");
    const hx = cx - 5.9, hy = fig.stripTop + 10.4;
    g.append("path")
      .attr("d", `M${hx - 1.8},${hy + 3.2}L${hx},${hy}L${hx + 1.8},${hy + 3.2}`)
      .attr("fill", "none").attr("stroke", "#1A1A1A").attr("stroke-width", 0.8);
    g.append("text").attr("x", cx - 7.6).attr("y", fig.stripTop + 25.8)
      .attr("font-size", "11.8px").attr("fill", "#1A1A1A").text("f");
    g.append("text").attr("x", cx - 3.3).attr("y", fig.stripTop + 20.2)
      .attr("font-size", "9.4px").attr("fill", "#1A1A1A").text(`(${colLabels[c]})`);
  });

  // right strips
  [0, 1].forEach((r) => {
    const [y0, y1] = rowY[r];
    const [sx0, sx1] = layout.stripRight;
    g.append("rect")
      .attr("x", sx0).attr("y", y0)
      .attr("width", sx1 - sx0).attr("height", y1 - y0)
      .attr("fill", "#D9D9D9");
    const tx = (sx0 + sx1) / 2 - 4.2;
    const ty = (y0 + y1) / 2;
    g.append("text")
      .attr("transform", `translate(${tx},${ty}) rotate(90)`)
      .attr("text-anchor", "middle")
      .attr("font-size", "11.8px")
      .attr("fill", "#1A1A1A")
      .text(rowLabels[r]);
  });

  // panels
  [0, 1].forEach((r) => {
    [0, 1].forEach((c) => {
      const x = xScales[c], y = yScales[r];
      const p = g.append("g");
      p.append("rect")
        .attr("x", layout.colX[c][0]).attr("y", rowY[r][0])
        .attr("width", layout.colX[c][1] - layout.colX[c][0])
        .attr("height", rowY[r][1] - rowY[r][0])
        .attr("fill", "#EBEBEB");

      const xMinor = minorBreaks(fig.xTicks[c], x.domain());
      const yMinor = minorBreaks(fig.yTicks[r], y.domain());
      const xMajor = fig.xTicks[c].filter((v) => v >= x.domain()[0] && v <= x.domain()[1]);
      const yMajor = fig.yTicks[r].filter((v) => v >= y.domain()[0] && v <= y.domain()[1]);

      p.selectAll(".ymin").data(yMinor).join("line")
        .attr("x1", layout.colX[c][0]).attr("x2", layout.colX[c][1])
        .attr("y1", (d) => y(d)).attr("y2", (d) => y(d))
        .attr("stroke", "#fff").attr("stroke-width", 0.53);
      p.selectAll(".xmin").data(xMinor).join("line")
        .attr("y1", rowY[r][0]).attr("y2", rowY[r][1])
        .attr("x1", (d) => x(d)).attr("x2", (d) => x(d))
        .attr("stroke", "#fff").attr("stroke-width", 0.53);
      p.selectAll(".ymaj").data(yMajor).join("line")
        .attr("x1", layout.colX[c][0]).attr("x2", layout.colX[c][1])
        .attr("y1", (d) => y(d)).attr("y2", (d) => y(d))
        .attr("stroke", "#fff").attr("stroke-width", 1.07);
      p.selectAll(".xmaj").data(xMajor).join("line")
        .attr("y1", rowY[r][0]).attr("y2", rowY[r][1])
        .attr("x1", (d) => x(d)).attr("x2", (d) => x(d))
        .attr("stroke", "#fff").attr("stroke-width", 1.07);

      p.selectAll(".pt").data(fig.cells[r][c]).join("circle")
        .attr("cx", (d) => x(d[0])).attr("cy", (d) => y(d[1]))
        .attr("r", 2.5).attr("fill", "#000");
      p.selectAll(".red").data(fig.reds[r][c]).join("circle")
        .attr("cx", (d) => x(d[0])).attr("cy", (d) => y(d[1]))
        .attr("r", 3.5).attr("fill", "#FF0000");
    });
  });

  // axes
  const styleAxis = (sel) => {
    sel.select(".domain").remove();
    sel.selectAll(".tick line").attr("stroke", "#333333").attr("stroke-width", 1.07);
    sel.selectAll(".tick text")
      .attr("fill", "#4D4D4D")
      .attr("font-size", "11.8px")
      .attr("font-family", FONT);
  };
  [0, 1].forEach((r) => {
    g.append("g")
      .attr("transform", `translate(${layout.colX[0][0]},0)`)
      .call(d3.axisLeft(yScales[r]).tickValues(fig.yTicks[r]).tickSize(3.6).tickPadding(4.3)
        .tickFormat(d3.format(fig.yFmt[r])))
      .call(styleAxis);
  });
  [0, 1].forEach((c) => {
    g.append("g")
      .attr("transform", `translate(0,${rowY[1][1]})`)
      .call(d3.axisBottom(xScales[c]).tickValues(fig.xTicks[c]).tickSize(3.6).tickPadding(5.3)
        .tickFormat(d3.format("d")))
      .call(styleAxis);
  });

  // axis titles
  g.append("text")
    .attr("x", (layout.colX[0][0] + layout.colX[1][1]) / 2)
    .attr("y", rowY[1][1] + 32.3)
    .attr("text-anchor", "middle")
    .attr("font-size", "14.9px")
    .attr("fill", "#000")
    .text(xLabel);
  g.append("text")
    .attr("transform", `translate(20.5,${(rowY[0][0] + rowY[1][1]) / 2}) rotate(-90)`)
    .attr("text-anchor", "middle")
    .attr("font-size", "14.9px")
    .attr("fill", "#000")
    .text(yLabel);
}

figures.forEach(drawFigure);
</script>
</body>
</html>
